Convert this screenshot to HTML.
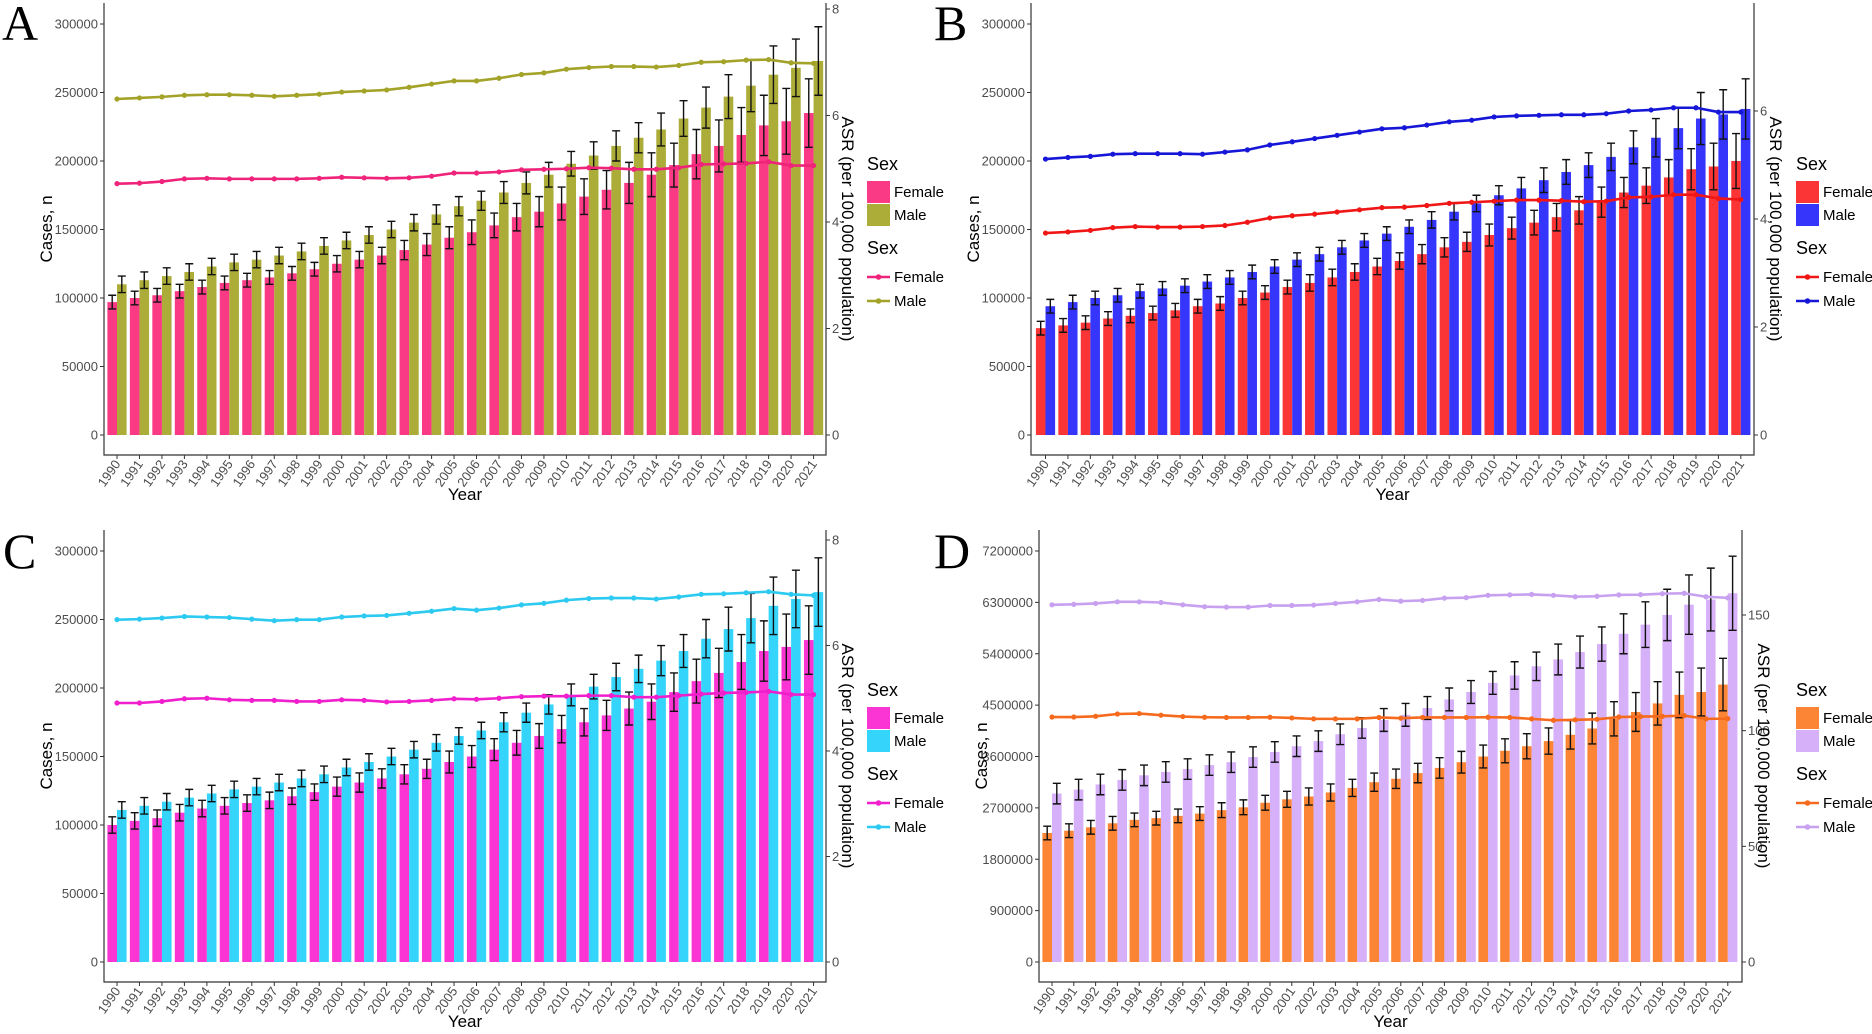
<!DOCTYPE html>
<html><head><meta charset="utf-8">
<style>
html,body{margin:0;padding:0;background:#fff;}
svg{display:block;font-family:"Liberation Sans Narrow","Liberation Sans",sans-serif;}
.tk{font-size:13px;fill:#4d4d4d;}
.ttl{font-family:"Liberation Sans",sans-serif;font-size:17px;fill:#000;}
.lg{font-family:"Liberation Sans Narrow","Liberation Sans",sans-serif;}
</style></head>
<body>
<svg id="chart" width="1872" height="1034" viewBox="0 0 1872 1034"></svg>
<script>
const years = [1990,1991,1992,1993,1994,1995,1996,1997,1998,1999,2000,2001,2002,2003,2004,2005,2006,2007,2008,2009,2010,2011,2012,2013,2014,2015,2016,2017,2018,2019,2020,2021];
// Panel A (cases in thousands)
const aFemaleCases = [97,100,102,105,108,111,113,115,118,121,125,128,131,135,139,144,148,153,159,163,169,174,179,184,190,197,205,211,219,226,229,235];
const aMaleCases = [110,113,116,119,123,126,128,131,134,138,142,146,150,155,161,167,171,177,184,190,198,204,211,217,223,231,239,247,255,263,268,273];
const aFemaleErr = [5,5,5,5,5,5,5,5,5,5,6,6,6,7,8,8,9,9,10,11,12,13,14,15,16,16,18,19,20,22,24,25];
const aMaleErr = [6,6,6,6,6,6,6,6,6,6,6,6,6,6,7,7,7,8,8,9,9,10,11,11,12,13,15,16,19,21,21,25];
const aFemaleAsr = [4.72,4.73,4.76,4.81,4.82,4.81,4.81,4.81,4.81,4.82,4.84,4.83,4.82,4.83,4.86,4.92,4.92,4.94,4.98,4.99,5.00,5.02,5.01,4.99,4.99,5.02,5.08,5.09,5.10,5.13,5.06,5.06];
const aMaleAsr = [6.31,6.33,6.35,6.38,6.39,6.39,6.38,6.36,6.38,6.40,6.44,6.46,6.48,6.53,6.59,6.65,6.65,6.70,6.77,6.80,6.87,6.90,6.92,6.92,6.91,6.94,7.00,7.01,7.04,7.05,6.99,6.98];
// Panel B
const bFemaleCases = [78,80,82,85,87,89,91,94,96,100,104,108,111,115,119,123,127,132,137,141,146,151,155,159,164,170,177,182,188,194,196,200];
const bMaleCases = [94,97,100,102,105,107,109,112,115,119,123,128,132,137,142,147,152,157,163,169,175,180,186,192,197,203,210,217,224,231,234,238];
const bFemaleErr = [5,5,5,5,5,5,5,5,5,5,5,5,6,6,6,6,6,7,7,7,8,8,9,10,10,11,11,13,13,15,17,20];
const bMaleErr = [5,5,5,5,5,5,5,5,5,5,5,5,5,5,5,5,5,6,6,6,7,8,9,9,9,10,12,14,15,19,18,22];
const bFemaleAsr = [3.74,3.76,3.79,3.84,3.86,3.85,3.85,3.86,3.88,3.94,4.02,4.06,4.09,4.13,4.17,4.21,4.22,4.25,4.29,4.31,4.33,4.35,4.35,4.34,4.32,4.33,4.40,4.41,4.45,4.45,4.38,4.36];
const bMaleAsr = [5.11,5.14,5.16,5.20,5.21,5.21,5.21,5.20,5.24,5.28,5.37,5.43,5.49,5.55,5.61,5.67,5.69,5.74,5.80,5.83,5.89,5.91,5.92,5.93,5.93,5.95,6.00,6.02,6.06,6.06,5.98,5.98];
// Panel C
const cFemaleCases = [100,103,105,109,112,114,116,118,121,124,128,131,134,137,141,146,150,155,160,165,170,175,180,185,190,197,205,211,219,227,230,235];
const cMaleCases = [111,114,117,120,123,126,128,131,134,137,142,146,150,155,160,165,169,175,182,188,195,201,208,214,220,227,236,243,251,260,265,270];
const cFemaleErr = [6,6,6,6,6,6,6,6,6,6,7,7,7,7,7,8,8,8,9,9,10,10,11,12,13,14,16,18,20,22,24,25];
const cMaleErr = [6,6,6,6,6,6,6,6,6,6,6,6,6,6,6,6,6,7,7,7,8,9,10,10,11,12,14,16,18,21,21,25];
const cFemaleAsr = [4.91,4.91,4.94,4.99,5.00,4.97,4.96,4.96,4.94,4.94,4.97,4.96,4.93,4.94,4.96,4.99,4.98,5.00,5.03,5.04,5.04,5.05,5.05,5.02,5.02,5.05,5.08,5.10,5.11,5.13,5.07,5.07];
const cMaleAsr = [6.49,6.50,6.52,6.55,6.54,6.53,6.50,6.47,6.49,6.49,6.54,6.56,6.57,6.61,6.65,6.70,6.67,6.71,6.77,6.80,6.86,6.89,6.90,6.90,6.88,6.92,6.97,6.98,7.00,7.02,6.97,6.95];
// Panel D (cases in thousands)
const dFemaleCases = [2260,2300,2360,2430,2490,2520,2560,2600,2660,2710,2790,2850,2900,2970,3050,3150,3210,3310,3400,3500,3600,3700,3780,3870,3980,4090,4260,4380,4530,4680,4730,4860];
const dMaleCases = [2950,3020,3110,3190,3270,3330,3380,3450,3500,3590,3680,3780,3870,3990,4100,4240,4330,4450,4600,4730,4890,5020,5180,5300,5430,5570,5750,5910,6080,6260,6350,6460];
const dFemaleErr = [120,120,120,120,120,120,120,120,130,130,130,140,150,150,150,160,170,170,180,190,200,210,220,230,250,270,300,340,380,400,420,460];
const dMaleErr = [180,180,180,180,180,180,180,180,180,180,180,180,180,180,180,200,200,200,200,200,200,240,250,270,280,300,350,400,450,520,550,650];
const dFemaleAsr = [105.9,105.9,106.2,107.2,107.4,106.7,106.1,105.8,105.7,105.7,105.8,105.5,105.1,105.1,105.1,105.7,105.4,105.7,105.7,105.7,105.8,105.7,105.1,104.5,104.7,104.9,105.9,106.1,106.2,106.5,105.1,105.2];
const dMaleAsr = [154.4,154.6,155.0,155.7,155.7,155.4,154.4,153.6,153.4,153.4,154.1,154.1,154.3,155.0,155.7,156.7,156.0,156.3,157.3,157.5,158.5,158.7,158.9,158.5,157.9,158.1,158.7,158.8,159.2,159.4,157.9,157.4];
const abcLeftTicks = [0,50000,100000,150000,200000,250000,300000];
const dLeftTicks = [0,900000,1800000,2700000,3600000,4500000,5400000,6300000,7200000];
const acRightTicks = [0,2,4,6,8];
const bRightTicks = [0,2,4,6];
const dRightTicks = [0,50,100,150];

const NS='http://www.w3.org/2000/svg';
const svg=document.getElementById('chart');
function mk(tag,attrs,parent){const e=document.createElementNS(NS,tag);for(const k in attrs)e.setAttribute(k,attrs[k]);(parent||svg).appendChild(e);return e;}

function drawPanel(p){
  const g=mk('g',{});
  
  
  const yL=v=>p.y0-(v*1000)*(p.y0-p.yMaxPix)/p.leftMax;
  const yR=v=>p.y0-v*(p.y0-p.rMaxPix)/p.rightMax;
  const xc=i=>p.c0+i*p.step;
  const bw=9.6;
  // letter
  const L=mk('text',{x:p.letterX,y:p.letterY,'font-family':'"Liberation Serif",serif','font-size':50},g);
  L.textContent=p.id;
  
  
  // bars
  const series=[[p.fc,p.fe,p.fCol,-bw/2,'female'],[p.mc,p.me,p.mCol,bw/2,'male']];
  series.forEach(s=>{
    s[0].forEach((v,i)=>{
      const x=xc(i)+s[3]-bw/2;
      const r=mk('rect',{x:x,y:yL(v),width:bw,height:p.y0-yL(v),fill:s[2]},g);
      
      
    });
  });
  // error bars
  series.forEach(s=>{
    s[0].forEach((v,i)=>{
      const cx=xc(i)+s[3];
      const hi=yL(v+s[1][i]),lo=yL(v-s[1][i]);
      const e=mk('path',{d:`M${cx-4},${hi}H${cx+4}M${cx},${hi}V${lo}M${cx-4},${lo}H${cx+4}`,stroke:'#111',"stroke-width":1.4,fill:'none'},g);
      
      
    });
  });
  // lines
  [[p.fa,p.fLine,'female'],[p.ma,p.mLine,'male']].forEach(s=>{
    const d=s[0].map((v,i)=>(i?'L':'M')+xc(i)+','+yR(v)).join('');
    const l=mk('path',{d:d,stroke:s[1],'stroke-width':2.6,fill:'none'},g);
    
    
    s[0].forEach((v,i)=>{
      const c=mk('circle',{cx:xc(i),cy:yR(v),r:2.6,fill:s[1]},g);
      
      
    });
  });
  // axes
  const ax=mk('path',{d:`M${p.axL},${p.top}V${p.bot}H${p.axR}V${p.top}`,stroke:'#333','stroke-width':1.2,fill:'none'},g);
  
  
  p.lt.forEach(t=>{
    const y=yL(t/1000);
    mk('line',{x1:p.axL-4,x2:p.axL,y1:y,y2:y,stroke:'#333'},g);
    const tx=mk('text',{x:p.axL-6,y:y+4.5,'text-anchor':'end',class:'tk'},g);
    tx.textContent=t;
    
    
  });
  p.rt.forEach(t=>{
    const y=yR(t);
    mk('line',{x1:p.axR,x2:p.axR+4,y1:y,y2:y,stroke:'#333'},g);
    const tx=mk('text',{x:p.axR+6,y:y+4.5,class:'tk'},g);
    tx.textContent=t;
    
    
  });
  years.forEach((yr,i)=>{
    const x=xc(i);
    mk('line',{x1:x,x2:x,y1:p.bot,y2:p.bot+4,stroke:'#333'},g);
    const tx=mk('text',{x:x+4,y:p.bot+9,'text-anchor':'end',class:'tk',transform:`rotate(-55 ${x+4} ${p.bot+9})`},g);
    tx.textContent=yr;
    
    
  });
  const mid=(p.top+p.bot)/2;
  const t1=mk('text',{x:p.axL-52,y:mid,'text-anchor':'middle',class:'ttl',transform:`rotate(-90 ${p.axL-52} ${mid})`},g);
  t1.textContent='Cases, n';
  
  
  const t2=mk('text',{x:p.axR+16,y:mid,'text-anchor':'middle',class:'ttl',transform:`rotate(90 ${p.axR+16} ${mid})`},g);
  t2.textContent='ASR (per 100,000 population)';
  
  
  const t3=mk('text',{x:(p.axL+p.axR)/2,y:p.bot+45,'text-anchor':'middle',class:'ttl'},g);
  t3.textContent='Year';
  
  
  // legends
  const lx=p.lgX, ly=p.lgY;
  const lg=mk('g',{},g);
  
  
  const s1=mk('text',{x:lx,y:ly,'font-size':18,class:'lg'},lg); s1.textContent='Sex';
  mk('rect',{x:lx,y:ly+11,width:23,height:22,fill:p.fCol},lg);
  mk('rect',{x:lx,y:ly+34,width:23,height:22,fill:p.mCol},lg);
  const f1=mk('text',{x:lx+27,y:ly+27,'font-size':15,class:'lg'},lg); f1.textContent='Female';
  
  
  const m1=mk('text',{x:lx+27,y:ly+50,'font-size':15,class:'lg'},lg); m1.textContent='Male';
  
  
  const s2=mk('text',{x:lx,y:ly+84,'font-size':18,class:'lg'},lg); s2.textContent='Sex';
  mk('line',{x1:lx,x2:lx+23,y1:ly+107,y2:ly+107,stroke:p.fLine,'stroke-width':2.6},lg);
  mk('circle',{cx:lx+11.5,cy:ly+107,r:2.8,fill:p.fLine},lg);
  mk('line',{x1:lx,x2:lx+23,y1:ly+131,y2:ly+131,stroke:p.mLine,'stroke-width':2.6},lg);
  mk('circle',{cx:lx+11.5,cy:ly+131,r:2.8,fill:p.mLine},lg);
  const f2=mk('text',{x:lx+27,y:ly+112,'font-size':15,class:'lg'},lg); f2.textContent='Female';
  
  
  const m2=mk('text',{x:lx+27,y:ly+136,'font-size':15,class:'lg'},lg); m2.textContent='Male';
  
  
}

drawPanel({id:'A',letterX:2,letterY:40,axL:104,axR:826,top:3,bot:455,y0:435,yMaxPix:24,leftMax:300000,rMaxPix:9,rightMax:8,c0:117,step:22.47,
  fc:aFemaleCases,mc:aMaleCases,fe:aFemaleErr,me:aMaleErr,fa:aFemaleAsr,ma:aMaleAsr,lt:abcLeftTicks,rt:acRightTicks,
  fCol:'#fb3a85',mCol:'#acac39',fLine:'#f0237a',mLine:'#a3a329',lgX:867,lgY:170});
drawPanel({id:'B',letterX:934,letterY:40,axL:1031,axR:1754,top:3,bot:455,y0:435,yMaxPix:24,leftMax:300000,rMaxPix:111,rightMax:6,c0:1045.5,step:22.43,
  fc:bFemaleCases,mc:bMaleCases,fe:bFemaleErr,me:bMaleErr,fa:bFemaleAsr,ma:bMaleAsr,lt:abcLeftTicks,rt:bRightTicks,
  fCol:'#fb3535',mCol:'#3535fb',fLine:'#f01616',mLine:'#1616d8',lgX:1796,lgY:170});
drawPanel({id:'C',letterX:3,letterY:568,axL:104,axR:826,top:530,bot:982,y0:962,yMaxPix:551,leftMax:300000,rMaxPix:540,rightMax:8,c0:117,step:22.47,
  fc:cFemaleCases,mc:cMaleCases,fe:cFemaleErr,me:cMaleErr,fa:cFemaleAsr,ma:cMaleAsr,lt:abcLeftTicks,rt:acRightTicks,
  fCol:'#fb35d4',mCol:'#35d4fb',fLine:'#f01ecc',mLine:'#2ccaf0',lgX:867,lgY:696});
drawPanel({id:'D',letterX:934,letterY:568,axL:1039,axR:1742,top:530,bot:982,y0:962,yMaxPix:551,leftMax:7200000,rMaxPix:615,rightMax:150,c0:1052,step:21.8,
  fc:dFemaleCases,mc:dMaleCases,fe:dFemaleErr,me:dMaleErr,fa:dFemaleAsr,ma:dMaleAsr,lt:dLeftTicks,rt:dRightTicks,
  fCol:'#fb8535',mCol:'#d6b0f8',fLine:'#f56a1c',mLine:'#c7a0f0',lgX:1796,lgY:696});
</script>
</body></html>
